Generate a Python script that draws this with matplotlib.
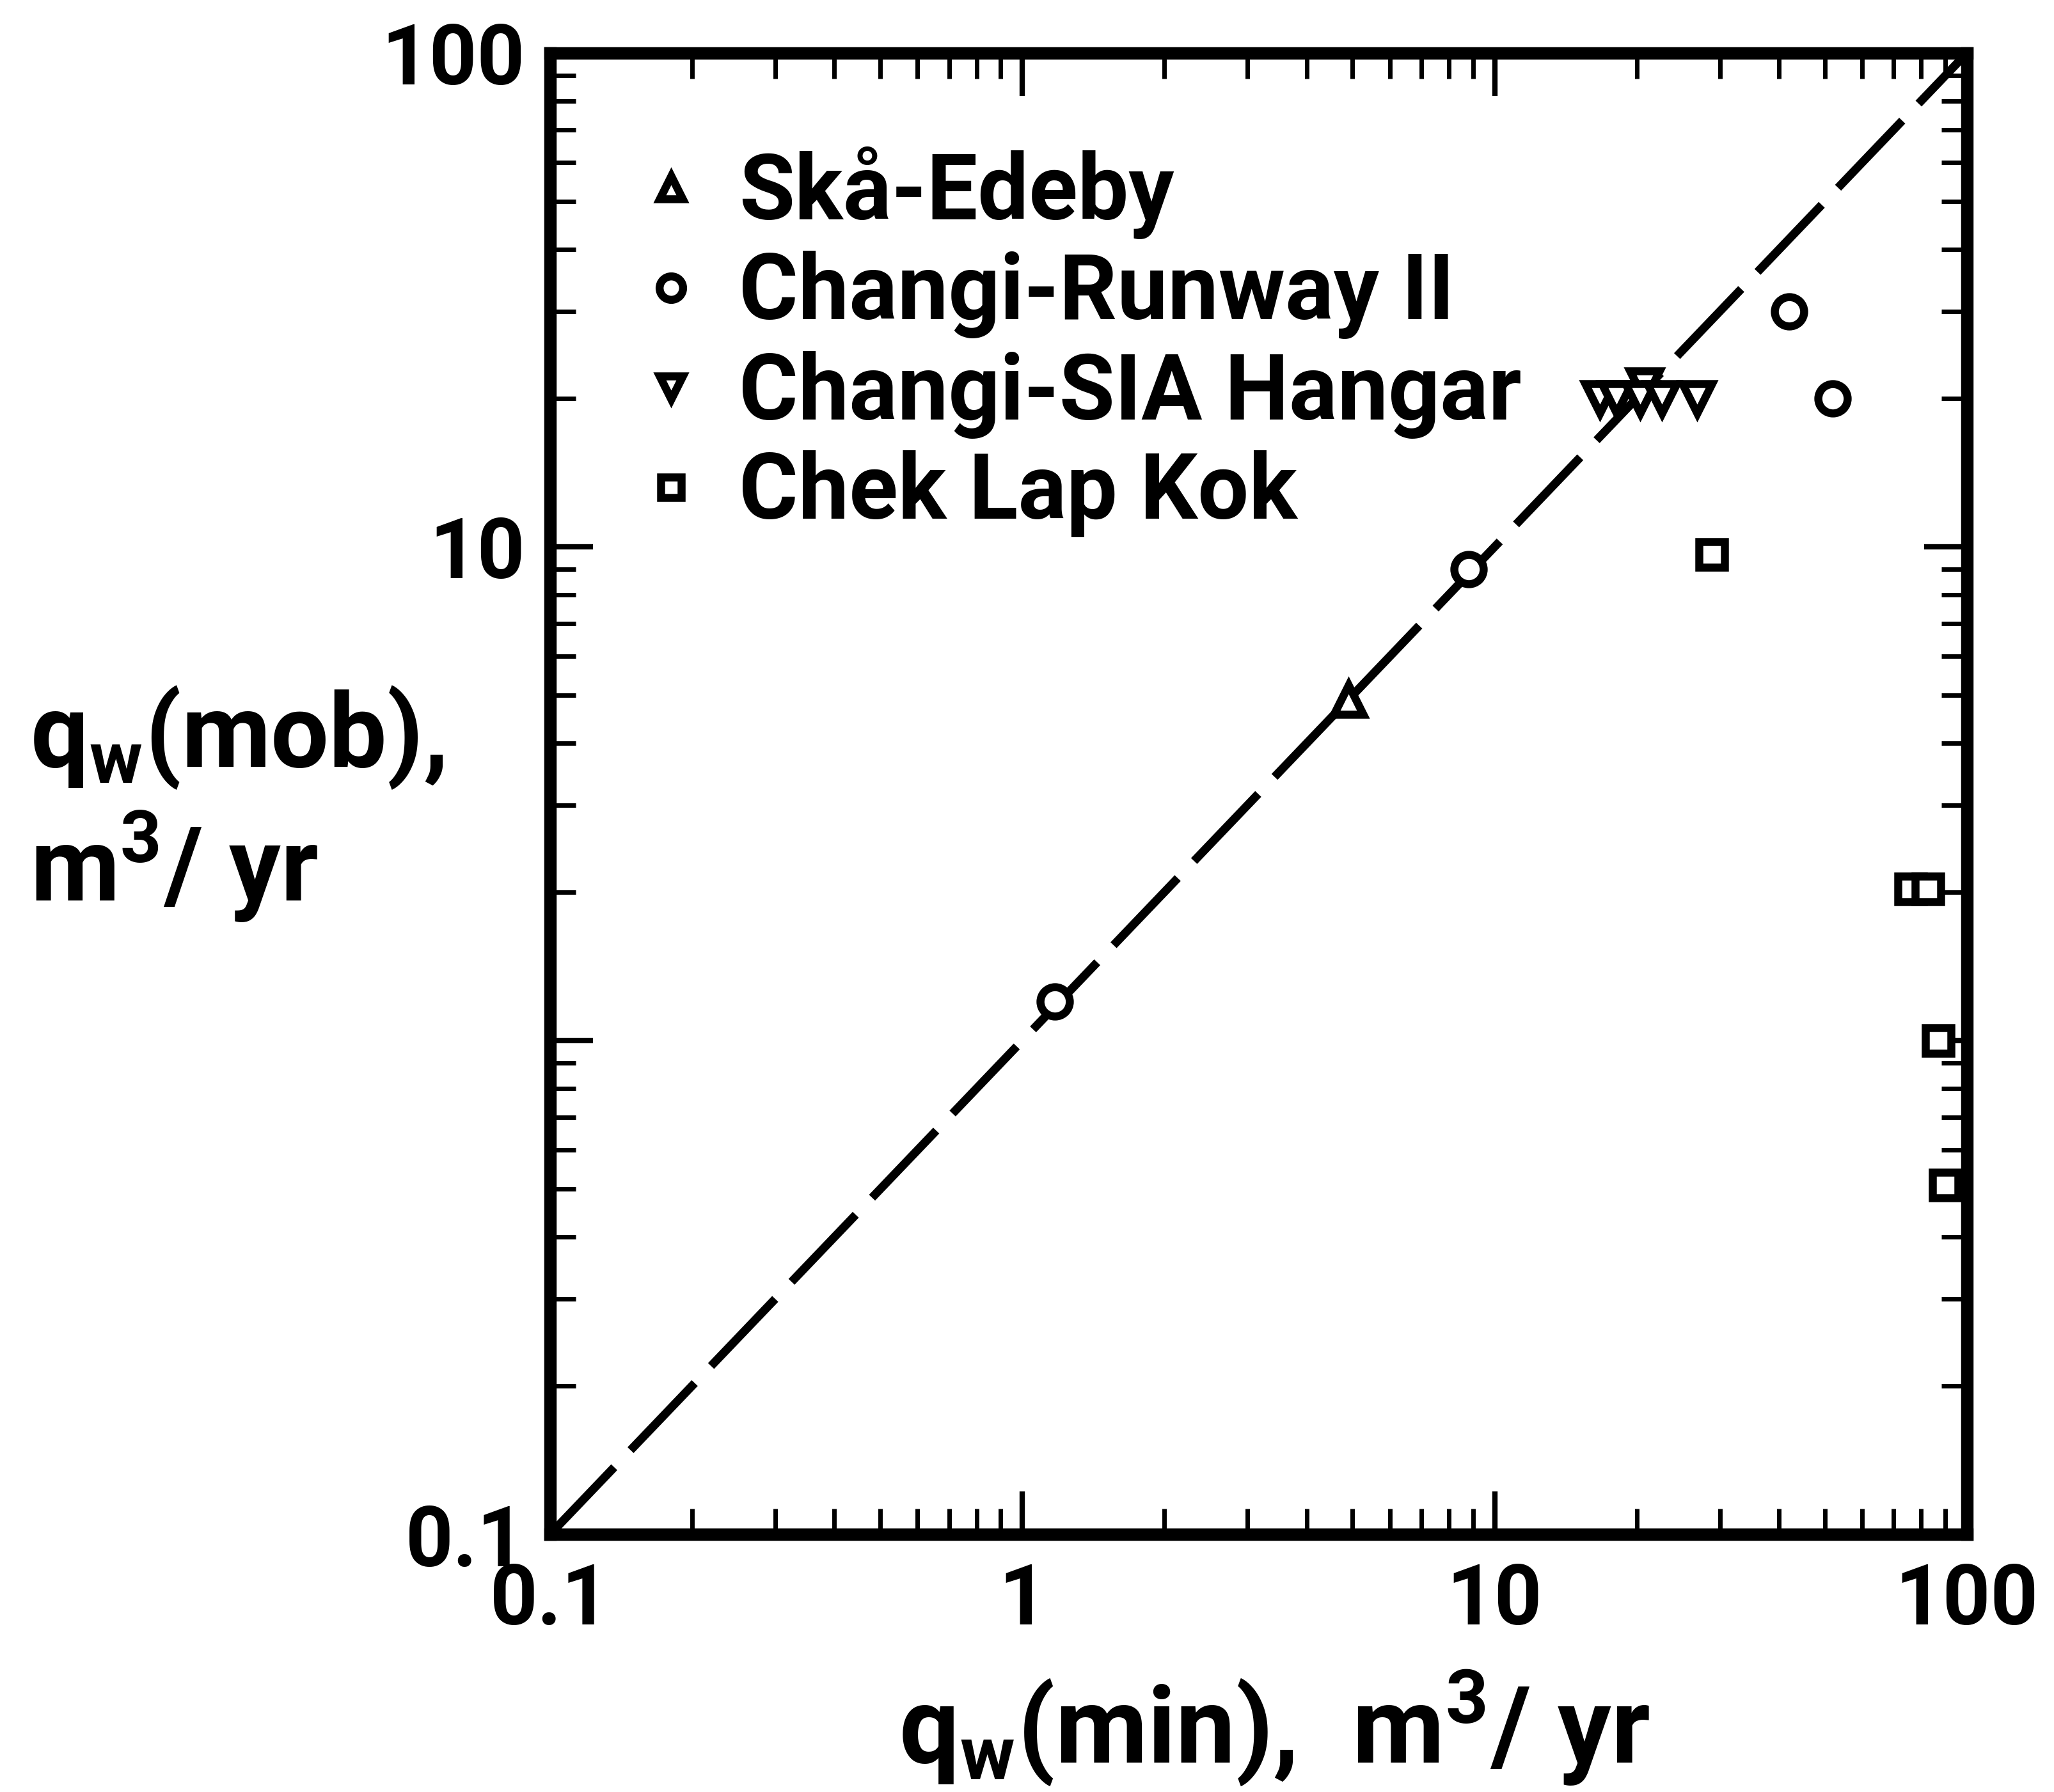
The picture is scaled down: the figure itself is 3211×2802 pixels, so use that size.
import matplotlib
matplotlib.use('Agg')
import matplotlib.pyplot as plt
from matplotlib.ticker import LogLocator, NullFormatter

# q_w(min) against q_w(mob), m3/yr, for each site
ska_x = [4.9]
ska_y = [4.9]
runway_x = [1.17, 8.8, 42, 52]
runway_y = [1.2, 9.0, 30, 20]
hangar_x = [20.8, 16.7, 18.1, 20.3, 22.6, 26.8]
hangar_y = [21.2, 20, 20, 20, 20, 20]
clk_x = [28.8, 76, 82.6, 87, 90]
clk_y = [9.65, 2.03, 2.03, 1.0, 0.51]

site_names = ['Skå-Edeby', 'Changi-Runway II', 'Changi-SIA Hangar', 'Chek Lap Kok']

x_ticks = [0.1, 1, 10, 100]
x_labels = ['0.1', '1', '10', '100']
y_ticks = [0.1, 1, 10, 100]
y_labels = ['0.1', '', '10', '100']

plt.rcParams['font.family'] = ['Roboto', 'DejaVu Sans']
plt.rcParams['font.weight'] = 'bold'
plt.rcParams['mathtext.default'] = 'regular'

fig = plt.figure(figsize=(32.11, 28.02), dpi=100)
ax = fig.add_axes([0.2678, 0.1438, 0.6898, 0.8266])

# 1:1 line
ax.plot([0.1, 100], [0.1, 100], color='black', lw=9.5,
        linestyle=(0, (11, 2.8)), zorder=2)

mk = dict(linestyle='none', color='black', mfc='white', mew=9, zorder=3)
ax.plot(ska_x, ska_y, marker='^', ms=33, label=site_names[0], **mk)
ax.plot(runway_x, runway_y, marker='o', ms=33, label=site_names[1], **mk)
ax.plot(hangar_x, hangar_y, marker='v', ms=33, label=site_names[2], **mk)
ax.plot(clk_x, clk_y, marker='s', ms=29, label=site_names[3], **mk)

ax.set_xscale('log')
ax.set_yscale('log')
ax.set_xlim(0.1, 100)
ax.set_ylim(0.1, 100)

for axis in (ax.xaxis, ax.yaxis):
    axis.set_minor_locator(LogLocator(base=10, subs=range(2, 10)))
    axis.set_minor_formatter(NullFormatter())
ax.set_xticks(x_ticks, x_labels)
ax.set_yticks(y_ticks, y_labels)

ax.tick_params(which='both', direction='in', top=True, right=True,
               labelsize=94)
ax.tick_params(which='major', length=48, width=6)
ax.tick_params(which='minor', length=29, width=5)
ax.tick_params(axis='x', pad=30)
ax.tick_params(axis='y', pad=28)
for sp in ax.spines.values():
    sp.set_linewidth(14)

ax.set_xlabel('q$_w$(min),  m$^3$/ yr', fontsize=120, fontweight='bold',
              va='baseline')
ax.xaxis.set_label_coords(0.511, -0.154)
ax.set_ylabel('q$_w$(mob),\nm$^3$/ yr', fontsize=116, fontweight='bold',
              rotation=0, ha='left', va='center', multialignment='left',
              linespacing=1.2)
ax.yaxis.set_label_coords(-0.367, 0.493)

ax.legend(loc='upper left', bbox_to_anchor=(0.066, 0.937), frameon=False,
          prop={'size': 102, 'weight': 'bold'}, markerscale=0.8,
          handlelength=0.6, handletextpad=0.45, labelspacing=0.13,
          borderaxespad=0, borderpad=0)

fig.savefig('out.png', dpi=100)
